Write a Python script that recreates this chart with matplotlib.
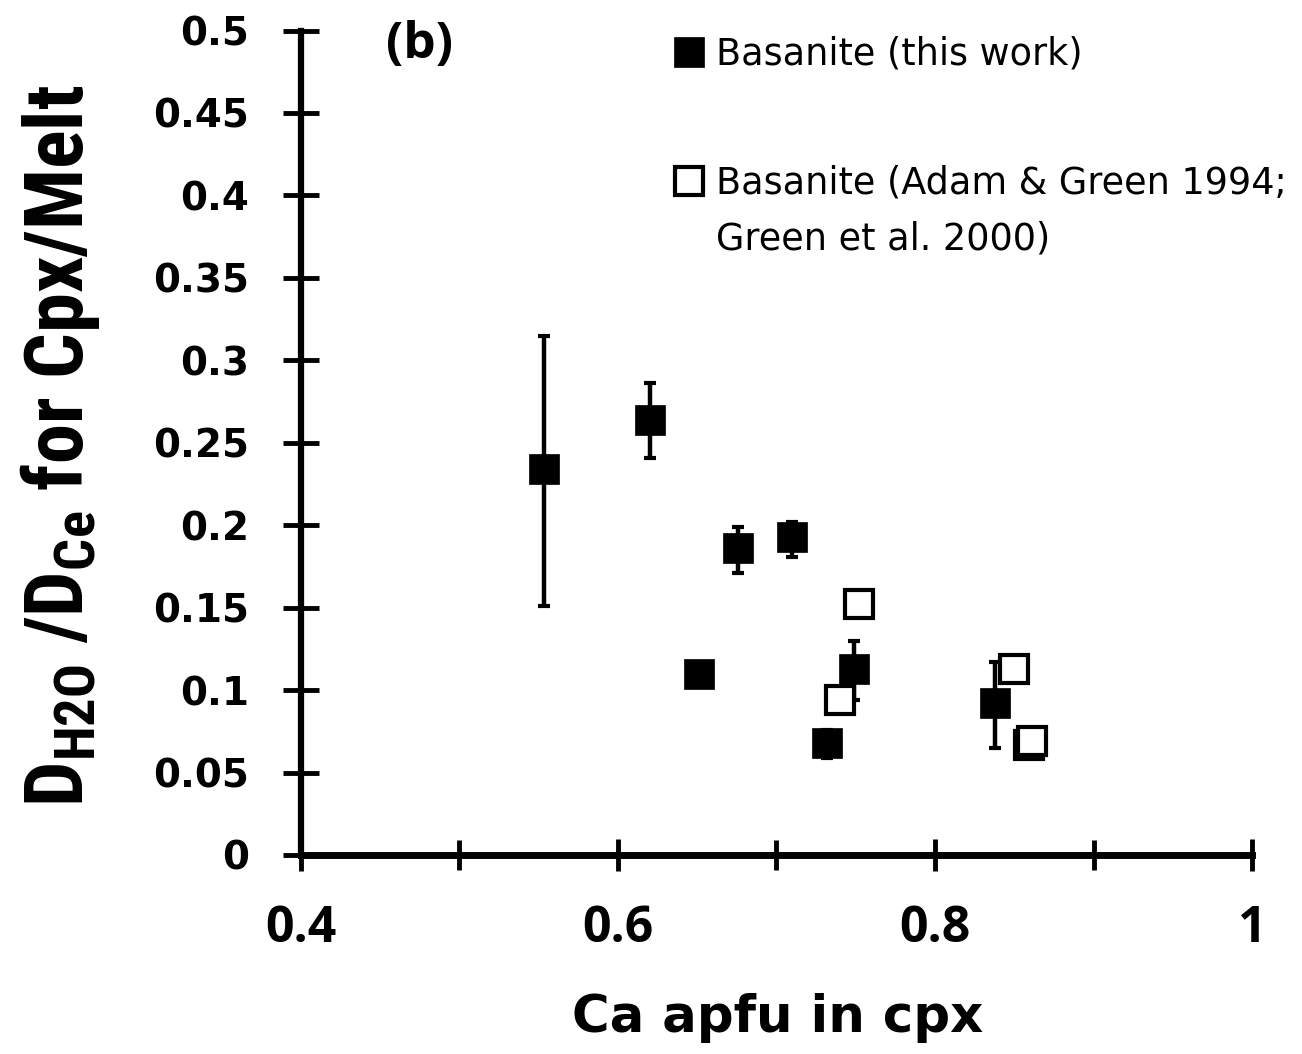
import matplotlib
matplotlib.use("Agg")
import matplotlib.pyplot as plt
from matplotlib import font_manager
from matplotlib.lines import Line2D
from matplotlib.ticker import FixedLocator
import numpy as np

# basanite, this work (filled squares) with error bar bounds
x_this = np.array([0.553, 0.620, 0.651, 0.676, 0.710, 0.732, 0.749, 0.838])
y_this = np.array([0.234, 0.264, 0.110, 0.186, 0.193, 0.068, 0.113, 0.092])
y_lo   = np.array([0.151, 0.241, 0.110, 0.171, 0.181, 0.059, 0.094, 0.065])
y_hi   = np.array([0.315, 0.286, 0.110, 0.199, 0.202, 0.076, 0.130, 0.117])

# basanite, Adam & Green 1994; Green et al. 2000 (open squares)
x_lit = np.array([0.752, 0.740, 0.850, 0.859, 0.861])
y_lit = np.array([0.152, 0.094, 0.113, 0.067, 0.069])

label_this = "Basanite (this work)"
label_lit = ["Basanite (Adam & Green 1994;", "Green et al. 2000)"]

xticks = [0.4, 0.6, 0.8, 1.0]
xticklabels = ["0.4", "0.6", "0.8", "1"]
xminor = [0.5, 0.7, 0.9]
yticks = np.arange(0, 0.51, 0.05)
yticklabels = ["0", "0.05", "0.1", "0.15", "0.2", "0.25", "0.3", "0.35", "0.4", "0.45", "0.5"]

# narrowest bold face we can find for the tall y label
names = {f.name for f in font_manager.fontManager.ttflist}
narrow = "DejaVu Sans"
for cand in ["Liberation Sans Narrow", "Roboto Condensed", "Open Sans Condensed",
             "Noto Sans Condensed", "DejaVu Sans Condensed", "Roboto"]:
    if cand in names:
        narrow = cand
        break
ylab_size = 58 if "Narrow" in narrow or "Condensed" in narrow else 51

plt.rcParams["mathtext.fontset"] = "custom"
plt.rcParams["mathtext.rm"] = narrow + ":bold"
plt.rcParams["mathtext.it"] = narrow + ":bold"
plt.rcParams["mathtext.bf"] = narrow + ":bold"

fig = plt.figure(figsize=(13.02, 10.54), dpi=100)
ax = fig.add_axes([301/1302, 1 - 855/1054, (1252 - 301)/1302, (855 - 30.5)/1054])

# error bars first, markers on top
ax.errorbar(x_this, y_this, yerr=[y_this - y_lo, y_hi - y_this], fmt="none",
            ecolor="black", elinewidth=3.2, capsize=4.5, capthick=3, zorder=2)
h1, = ax.plot(x_this, y_this, ls="none", marker="s", ms=21, mfc="black",
              mec="black", mew=0.5, zorder=3)
h2, = ax.plot(x_lit, y_lit, ls="none", marker="s", ms=19.5, mfc="white",
              mec="black", mew=3, zorder=4)

ax.set_xlim(0.4, 1.0)
ax.set_ylim(0, 0.5)

for s in ["top", "right"]:
    ax.spines[s].set_visible(False)
ax.spines["bottom"].set_linewidth(5)
ax.spines["left"].set_linewidth(4.5)

ax.xaxis.set_major_locator(FixedLocator(xticks))
ax.xaxis.set_minor_locator(FixedLocator(xminor))
ax.set_xticklabels(xticklabels, fontfamily="Open Sans", fontweight="bold", fontsize=36)
ax.set_yticks(yticks)
ax.set_yticklabels(yticklabels, fontfamily="DejaVu Sans", fontweight="bold", fontsize=28)

ax.tick_params(axis="x", which="major", direction="inout", length=23, width=3.5, pad=24)
ax.tick_params(axis="x", which="minor", direction="inout", length=21, width=3.5)
ax.tick_params(axis="y", which="major", direction="inout", length=26.6, width=3.5, pad=24)

ax.set_xlabel("Ca apfu in cpx", fontfamily="DejaVu Sans", fontweight="bold", fontsize=37)
ax.xaxis.set_label_coords(0.501, -0.167)

ax.set_ylabel(r"$\mathrm{D_{H2O}}$ /$\mathrm{D_{Ce}}$ for Cpx/Melt",
              fontfamily=narrow, fontweight="bold", fontsize=ylab_size, va="center")
ax.yaxis.set_label_coords((60 - 301)/951, (855 - 446)/825)

ax.text((419 - 301)/951, (855 - 45)/825, "(b)", transform=ax.transAxes,
        ha="center", va="center", fontfamily="Open Sans", fontweight="bold", fontsize=37)

# legends: one for each series, second split over two rows
leg_kw = dict(frameon=False, borderpad=0, borderaxespad=0, handlelength=0.78,
              handletextpad=0.33, prop={"family": "DejaVu Sans", "size": 26.4},
              bbox_transform=fig.transFigure, loc="center left")
leg1 = ax.legend([h1], [label_this], bbox_to_anchor=(675/1302, 1 - 54/1054), **leg_kw)
ax.add_artist(leg1)
blank = Line2D([], [], ls="none")
leg2 = ax.legend([h2, blank], label_lit, labelspacing=0.5,
                 bbox_to_anchor=(675/1302, 1 - 211/1054), **leg_kw)

fig.savefig("out.png", dpi=100)
